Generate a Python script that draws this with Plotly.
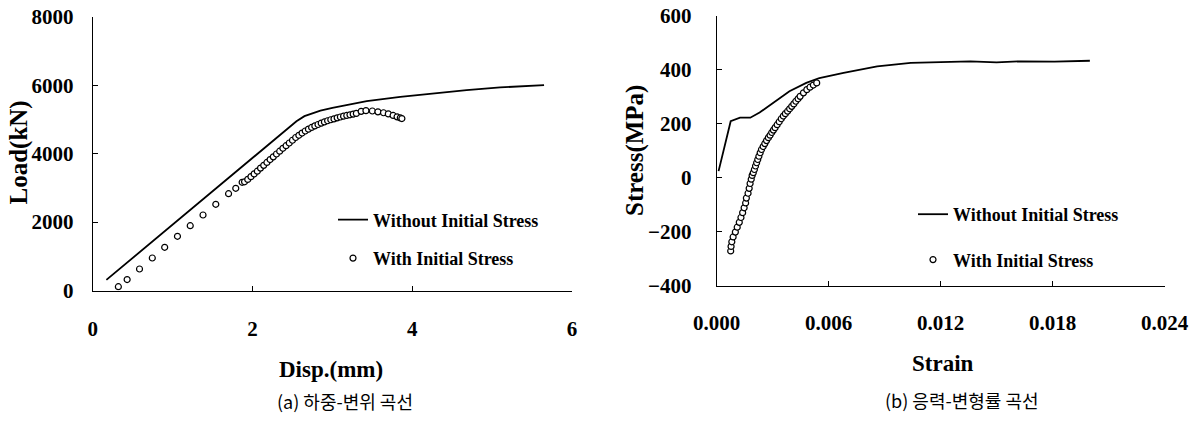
import plotly.graph_objects as go

W, H = 1193, 427

# ---------------- data: (a) load-displacement ----------------
disp_without = [0.17, 0.60, 1.00, 1.40, 1.80, 2.00, 2.20, 2.40, 2.55, 2.65, 2.75, 2.85,
                3.00, 3.20, 3.43, 3.85, 4.26, 4.68, 5.10, 5.40, 5.65]
load_without = [310, 1150, 1930, 2720, 3500, 3900, 4280, 4660, 4950, 5100, 5190, 5260,
                5340, 5440, 5540, 5665, 5765, 5860, 5940, 5980, 6010]

disp_with = [0.32, 0.43, 0.585, 0.745, 0.90, 1.06, 1.22, 1.38, 1.54, 1.70, 1.79, 1.87,
             1.90, 1.94, 1.98, 2.02, 2.06, 2.10, 2.14, 2.18, 2.22, 2.26, 2.30, 2.34,
             2.38, 2.42, 2.46, 2.50, 2.54, 2.58, 2.62, 2.66, 2.70, 2.74, 2.78, 2.82,
             2.86, 2.90, 2.94, 2.98, 3.02, 3.06, 3.10, 3.14, 3.18, 3.22, 3.26, 3.30,
             3.36, 3.42, 3.50, 3.57, 3.64, 3.70, 3.76, 3.81, 3.85, 3.87]
load_with = [111, 320, 629, 950, 1263, 1585, 1896, 2208, 2521, 2831, 2989, 3165,
             3180, 3250, 3330, 3410, 3490, 3580, 3660, 3745, 3830, 3910, 3993, 4075,
             4159, 4235, 4315, 4395, 4475, 4540, 4605, 4665, 4720, 4770, 4815, 4855,
             4895, 4930, 4965, 4995, 5020, 5050, 5075, 5100, 5120, 5140, 5160, 5180,
             5240, 5260, 5250, 5225, 5200, 5165, 5120, 5080, 5050, 5030]

# ---------------- data: (b) stress-strain ----------------
strain_without = [0.0001, 0.00075, 0.00125, 0.0018, 0.0023, 0.0030, 0.0039, 0.0048,
                  0.0055, 0.0068, 0.0086, 0.0104, 0.0120, 0.0136, 0.0150, 0.0163,
                  0.0181, 0.0200]
stress_without = [24, 209, 222, 222, 241, 277, 320, 351,
                  369, 388, 412, 425, 428, 431, 427, 431,
                  430, 433]

strain_with = [0.00075, 0.00077, 0.00081, 0.00088, 0.00100, 0.00110, 0.00121, 0.00130,
               0.00139, 0.00147, 0.00155, 0.00159, 0.00168, 0.00174, 0.00179, 0.00185,
               0.00190, 0.00196, 0.00202, 0.00208, 0.00214, 0.00220, 0.00226, 0.00233,
               0.00240, 0.00249, 0.00258, 0.00267, 0.00277, 0.00286, 0.00295, 0.00304,
               0.00313, 0.00324, 0.00335, 0.00346, 0.00357, 0.00368, 0.00380, 0.00391,
               0.00402, 0.00413, 0.00424, 0.00436, 0.00447, 0.00465, 0.00483, 0.00500,
               0.00518, 0.00536]
stress_with = [-272, -255, -238, -220, -202, -184, -166, -148,
               -130, -112, -94, -76, -58, -40, -22, -6,
               8, 18, 30, 43, 55, 67, 79, 92,
               104, 115, 126, 137, 148, 157, 167, 176,
               185, 196, 207, 218, 228, 237, 246, 255,
               264, 273, 283, 292, 301, 314, 326, 335,
               343, 351]

# ---------------- axes ticks / labels ----------------
disp_ticks = [0, 2, 4, 6]
load_ticks = [0, 2000, 4000, 6000, 8000]
strain_ticks = [0.000, 0.006, 0.012, 0.018, 0.024]
stress_ticks = [-400, -200, 0, 200, 400, 600]

name_without = "Without Initial Stress"
name_with = "With Initial Stress"

SERIF = "Liberation Serif, Times New Roman, serif"
KR = "Noto Sans CJK KR, sans-serif"


def px_x(p):
    return p / W


def px_y(p):
    return 1 - p / H


fig = go.Figure()

line_style = dict(color="black", width=1.8)
marker_style = dict(symbol="circle", size=6, color="white",
                    line=dict(color="black", width=1.2))

fig.add_trace(go.Scatter(x=disp_without, y=load_without, mode="lines", line=line_style,
                         name=name_without, xaxis="x", yaxis="y", legend="legend",
                         legendgroup="a1"))
fig.add_trace(go.Scatter(x=disp_with, y=load_with, mode="markers", marker=marker_style,
                         name=name_with, xaxis="x", yaxis="y", legend="legend",
                         legendgroup="a2"))
fig.add_trace(go.Scatter(x=strain_without, y=stress_without, mode="lines", line=line_style,
                         name=name_without, xaxis="x2", yaxis="y2", legend="legend2",
                         legendgroup="b1"))
fig.add_trace(go.Scatter(x=strain_with, y=stress_with, mode="markers", marker=marker_style,
                         name=name_with, xaxis="x2", yaxis="y2", legend="legend2",
                         legendgroup="b2"))

tickfont = dict(family=SERIF, size=21, color="black", weight="bold")
common = dict(showline=True, linecolor="black", linewidth=1, ticks="inside", ticklen=5,
              tickcolor="black", tickwidth=1, showgrid=False, zeroline=False,
              tickfont=tickfont, fixedrange=True, automargin=False)

fig.update_layout(
    width=W, height=H,
    margin=dict(l=0, r=0, t=0, b=0, autoexpand=False),
    paper_bgcolor="white", plot_bgcolor="white",
    showlegend=True,
    xaxis=dict(domain=[px_x(92.8), px_x(572)], range=[0, 6], tickvals=disp_ticks,
               anchor="y", ticklabelstandoff=19, **common),
    yaxis=dict(domain=[px_y(290.5), px_y(17)], range=[0, 8000], tickvals=load_ticks,
               anchor="x", ticklabelstandoff=14, **common),
    xaxis2=dict(domain=[px_x(716.7), px_x(1164.5)], range=[0, 0.024], tickvals=strain_ticks,
                tickformat=".3f", anchor="y2", ticklabelstandoff=18, **common),
    yaxis2=dict(domain=[px_y(285.5), px_y(15.7)], range=[-400, 600], tickvals=stress_ticks,
                anchor="x2", ticklabelstandoff=20, **common),
    legend=dict(x=px_x(333), y=px_y(201.5), xanchor="left", yanchor="top",
                bgcolor="rgba(0,0,0,0)", tracegroupgap=12,
                font=dict(family=SERIF, size=18, color="black", weight="bold")),
    legend2=dict(x=px_x(913), y=px_y(196), xanchor="left", yanchor="top",
                 bgcolor="rgba(0,0,0,0)", tracegroupgap=19,
                 font=dict(family=SERIF, size=18, color="black", weight="bold")),
)

annots = [
    dict(text="Load(kN)", x=px_x(18), y=px_y(152.5), textangle=-90,
         font=dict(family=SERIF, size=25, color="black", weight="bold")),
    dict(text="Disp.(mm)", x=px_x(331), y=px_y(369),
         font=dict(family=SERIF, size=23, color="black", weight="bold")),
    dict(text="(a) 하중-변위 곡선", x=px_x(345), y=px_y(401),
         font=dict(family=KR, size=18, color="black")),
    dict(text="Stress(MPa)", x=px_x(635), y=px_y(151), textangle=-90,
         font=dict(family=SERIF, size=25, color="black", weight="bold")),
    dict(text="Strain", x=px_x(943), y=px_y(363),
         font=dict(family=SERIF, size=23, color="black", weight="bold")),
    dict(text="(b) 응력-변형률 곡선", x=px_x(962), y=px_y(400),
         font=dict(family=KR, size=18, color="black")),
]
for a in annots:
    fig.add_annotation(xref="paper", yref="paper", showarrow=False,
                       xanchor="center", yanchor="middle", **a)

fig.write_html("out.html", config={"displayModeBar": False},
               post_script="document.body.style.margin='0';document.body.style.overflow='hidden';")
